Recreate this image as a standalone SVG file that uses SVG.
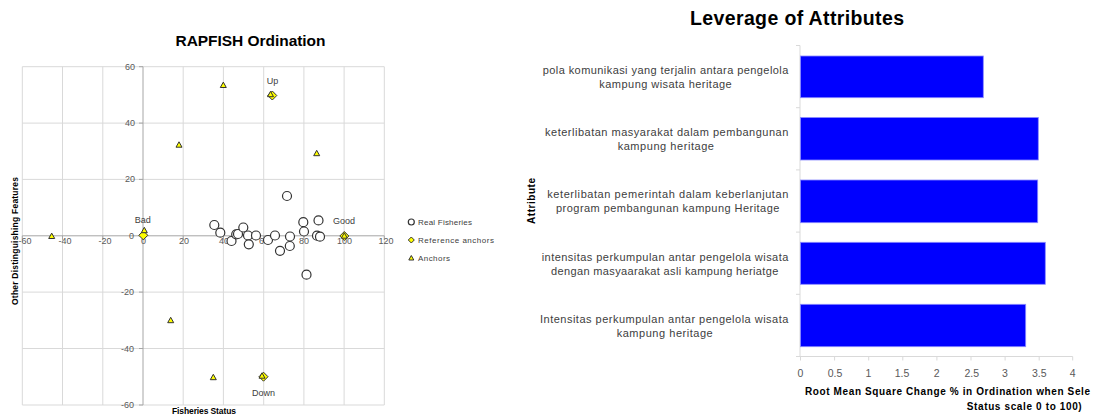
<svg xmlns="http://www.w3.org/2000/svg" width="1093" height="415" viewBox="0 0 1093 415">
<style>
.grid{stroke:#d9d9d9;stroke-width:1;fill:none}
.axis{stroke:#a6a6a6;stroke-width:1;fill:none}
.tick{font-family:"Liberation Sans",Arial,sans-serif;font-size:9px;fill:#595959}
.lbl{font-family:"Liberation Sans",Arial,sans-serif;font-size:9px;fill:#404040}
.title{font-family:"Liberation Sans",Arial,sans-serif;font-weight:bold;fill:#000}
.axt{font-family:"Liberation Sans",Arial,sans-serif;font-weight:bold;fill:#000}
.rf{fill:#fff;stroke:#333;stroke-width:1.2}
.ref{fill:#ffff00;stroke:#333;stroke-width:1}
.anc{fill:#ffff00;stroke:#333;stroke-width:1}
.bar{fill:#0000ff;stroke:#8c8cff;stroke-width:0.8}
.cat{font-family:"Liberation Sans",Arial,sans-serif;font-size:11px;fill:#404040;text-anchor:middle}
.btick{font-family:"Liberation Sans",Arial,sans-serif;font-size:10.5px;fill:#595959;text-anchor:middle}
.leg{font-family:"Liberation Sans",Arial,sans-serif;font-size:8px;fill:#404040}
</style>
<defs>
<path id="tri" d="M0,-3.2 L3,2.2 L-3,2.2 Z"/>
<path id="dia" d="M0,-4.5 L4.5,0 L0,4.5 L-4.5,0 Z"/>
</defs>
<rect width="1093" height="415" fill="#fff"/>

<g id="scatter">
<text class="title" x="250.5" y="45.5" font-size="15.5" text-anchor="middle" textLength="150">RAPFISH Ordination</text>
<g id="scatter-grid">
<path class="grid" d="M22.3,66.7H384.3M22.3,123.1H384.3M22.3,179.4H384.3M22.3,292.1H384.3M22.3,348.5H384.3M22.3,405H384.3"/>
<path class="grid" d="M22.3,66.7V405M62.5,66.7V405M102.8,66.7V405M183.2,66.7V405M223.4,66.7V405M263.7,66.7V405M303.9,66.7V405M344.1,66.7V405M384.3,66.7V405"/>
<path class="axis" d="M143,66.7V405M22.3,235.8H384.3"/>
<path class="axis" d="M139,66.7H143M139,123.1H143M139,179.4H143M139,235.8H143M139,292.1H143M139,348.5H143M139,405H143"/>
<path class="axis" d="M22.3,235.8V239.8M62.5,235.8V239.8M102.8,235.8V239.8M143,235.8V239.8M183.2,235.8V239.8M223.4,235.8V239.8M263.7,235.8V239.8M303.9,235.8V239.8M344.1,235.8V239.8M384.3,235.8V239.8"/>
</g>
<g id="scatter-ticks" class="tick">
<text x="135" y="69.7" text-anchor="end">60</text>
<text x="135" y="126.1" text-anchor="end">40</text>
<text x="135" y="182.4" text-anchor="end">20</text>
<text x="134" y="238.8" text-anchor="end">0</text>
<text x="134" y="295.1" text-anchor="end">-20</text>
<text x="134" y="351.5" text-anchor="end">-40</text>
<text x="134" y="408" text-anchor="end">-60</text>
<text x="25" y="243.5" text-anchor="middle">-60</text>
<text x="65" y="243.5" text-anchor="middle">-40</text>
<text x="105" y="243.5" text-anchor="middle">-20</text>
<text x="143.5" y="243.5" text-anchor="middle">0</text>
<text x="184" y="243.5" text-anchor="middle">20</text>
<text x="224" y="243.5" text-anchor="middle">40</text>
<text x="264" y="243.5" text-anchor="middle">60</text>
<text x="304" y="243.5" text-anchor="middle">80</text>
<text x="344.5" y="243.5" text-anchor="middle">100</text>
<text x="386" y="243.5" text-anchor="middle">120</text>
</g>
<text class="axt" font-size="8.5" transform="translate(17.5,241) rotate(-90)" text-anchor="middle" textLength="128">Other Distinguishing  Features</text>
<text class="axt" font-size="8.5" x="204" y="414" text-anchor="middle" textLength="64">Fisheries Status</text>

<g id="real-fisheries">
<circle class="rf" cx="214.3" cy="225" r="4.5"/>
<circle class="rf" cx="220.3" cy="232.7" r="4.5"/>
<circle class="rf" cx="231.5" cy="241" r="4.5"/>
<circle class="rf" cx="236.2" cy="234.3" r="4.5"/>
<circle class="rf" cx="238" cy="234" r="4.5"/>
<circle class="rf" cx="243.3" cy="227.5" r="4.5"/>
<circle class="rf" cx="248" cy="235.5" r="4.5"/>
<circle class="rf" cx="248.8" cy="244.3" r="4.5"/>
<circle class="rf" cx="256" cy="235.5" r="4.5"/>
<circle class="rf" cx="268" cy="240" r="4.5"/>
<circle class="rf" cx="275" cy="235.5" r="4.5"/>
<circle class="rf" cx="280" cy="250.8" r="4.5"/>
<circle class="rf" cx="287" cy="196" r="4.5"/>
<circle class="rf" cx="290" cy="236.5" r="4.5"/>
<circle class="rf" cx="289.8" cy="246" r="4.5"/>
<circle class="rf" cx="303.3" cy="222.2" r="4.5"/>
<circle class="rf" cx="304" cy="231.5" r="4.5"/>
<circle class="rf" cx="306.5" cy="274.7" r="4.5"/>
<circle class="rf" cx="318.5" cy="220.4" r="4.5"/>
<circle class="rf" cx="317" cy="235.7" r="4.5"/>
<circle class="rf" cx="320" cy="236.7" r="4.5"/>
</g>
<g id="reference-anchors">
<use href="#dia" class="ref" x="143.3" y="235.3"/>
<use href="#dia" class="ref" x="344.3" y="236"/>
<use href="#dia" class="ref" x="272.3" y="95.5"/>
<use href="#dia" class="ref" x="263.5" y="376.7"/>
</g>
<g id="anchors">
<use href="#tri" class="anc" x="144.3" y="230.5"/>
<use href="#tri" class="anc" x="344.3" y="236"/>
<use href="#tri" class="anc" x="270.5" y="94.5"/>
<use href="#tri" class="anc" x="262" y="376"/>
<use href="#tri" class="anc" x="223.3" y="85.3"/>
<use href="#tri" class="anc" x="179" y="145"/>
<use href="#tri" class="anc" x="316.7" y="153.5"/>
<use href="#tri" class="anc" x="51.7" y="236.3"/>
<use href="#tri" class="anc" x="170.7" y="320.5"/>
<use href="#tri" class="anc" x="213.3" y="377.5"/>
</g>
<g id="anchor-labels" class="lbl" text-anchor="middle">
<text x="272.5" y="83.7">Up</text>
<text x="142.7" y="223">Bad</text>
<text x="344" y="224">Good</text>
<text x="263.5" y="395.7">Down</text>
</g>
<g id="legend">
<circle class="rf" cx="411.3" cy="222" r="3" stroke-width="1"/>
<text class="leg" x="418" y="225" textLength="54">Real Fisheries</text>
<path class="ref" d="M411.3,237 L414.3,240 L411.3,243 L408.3,240 Z"/>
<text class="leg" x="418" y="243" textLength="76">Reference anchors</text>
<path class="anc" d="M411.3,255.5 L413.8,260 L408.8,260 Z"/>
<text class="leg" x="418" y="261" textLength="32">Anchors</text>
</g>
</g>

<g id="leverage">
<text class="title" x="797" y="25" font-size="19.5" text-anchor="middle" textLength="214">Leverage of Attributes</text>
<g id="bar-axes">
<path class="grid" d="M800,45.5V356.5H1072.7" stroke="#bfbfbf"/>
<path class="grid" stroke="#bfbfbf" d="M796,45.5H800M796,107.7H800M796,169.9H800M796,232.1H800M796,294.3H800M796,356.5H800"/>
<path class="grid" stroke="#bfbfbf" d="M800.5,356.5V360.5M834.6,356.5V360.5M868.7,356.5V360.5M902.8,356.5V360.5M936.9,356.5V360.5M971,356.5V360.5M1005.1,356.5V360.5M1039.2,356.5V360.5M1072.7,356.5V360.5"/>
</g>
<g id="bars">
<rect class="bar" x="800.5" y="56" width="182.8" height="41.7"/>
<rect class="bar" x="800.5" y="117.5" width="237.8" height="42.5"/>
<rect class="bar" x="800.5" y="180" width="237.2" height="42.7"/>
<rect class="bar" x="800.5" y="242.3" width="244.8" height="42"/>
<rect class="bar" x="800.5" y="304.3" width="225.2" height="42.4"/>
</g>
<g id="bar-ticks" class="btick">
<text x="800.5" y="376.5">0</text>
<text x="835" y="376.5">0.5</text>
<text x="868.5" y="376.5">1</text>
<text x="902" y="376.5">1.5</text>
<text x="936.7" y="376.5">2</text>
<text x="971.7" y="376.5">2.5</text>
<text x="1005" y="376.5">3</text>
<text x="1039.3" y="376.5">3.5</text>
<text x="1072.7" y="376.5">4</text>
</g>
<g id="categories" class="cat">
<text x="665.5" y="74" textLength="245.7">pola komunikasi yang terjalin antara pengelola</text>
<text x="665.5" y="88" textLength="132.3">kampung wisata heritage</text>
<text x="666.7" y="135.5" textLength="243.3">keterlibatan masyarakat dalam pembangunan</text>
<text x="665.8" y="150" textLength="96.3">kampung heritage</text>
<text x="667.8" y="197.5" textLength="241">keterlibatan pemerintah dalam keberlanjutan</text>
<text x="667.7" y="212" textLength="223.3">program pembangunan kampung Heritage</text>
<text x="665" y="260.5" textLength="246.7">intensitas perkumpulan antar pengelola wisata</text>
<text x="664.7" y="274.5" textLength="227.3">dengan masyaarakat asli kampung heriatge</text>
<text x="664.2" y="323" textLength="248.3">Intensitas perkumpulan antar pengelola wisata</text>
<text x="664.7" y="337" textLength="96">kampung heritage</text>
</g>
<text class="axt" font-size="10" transform="translate(535,201) rotate(-90)" text-anchor="middle" textLength="46">Attribute</text>
<text class="axt" font-size="10" x="805" y="394.5" textLength="285">Root Mean Square Change % in Ordination  when Sele</text>
<text class="axt" font-size="10" x="966.7" y="410" textLength="115">Status scale 0 to 100)</text>
</g>
</svg>
